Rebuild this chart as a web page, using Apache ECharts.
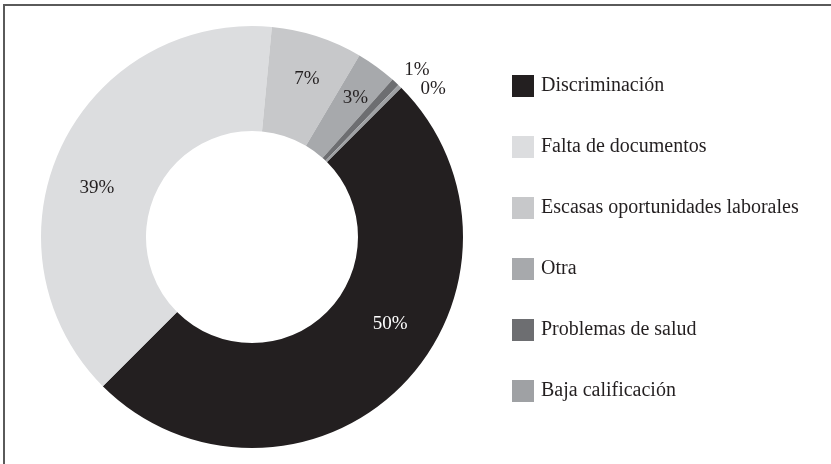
<!DOCTYPE html>
<html>
<head>
<meta charset="utf-8">
<script src="https://cdn.jsdelivr.net/npm/echarts@6/dist/echarts.min.js"></script>
<style>
html,body{margin:0;padding:0;background:#fff;}
#chart{width:831px;height:464px;}
</style>
</head>
<body>
<div id="chart"></div>
<script>
// Data
const categories = ['Discriminación', 'Falta de documentos', 'Escasas oportunidades laborales', 'Otra', 'Problemas de salud', 'Baja calificación'];
const values = [50.0, 39.0, 7.0, 3.1, 0.6, 0.3];

// Styles (kept separate from data)
const colors = ['#231f20', '#dcdddf', '#c7c8ca', '#a7a9ac', '#6d6e71', '#9fa1a4'];
const labelColors = ['#ffffff', '#231f20', '#231f20', '#231f20', '#231f20', '#231f20'];
const labelOffsets = [[24, -27], [-9, 20], [5, -4], [8, -9], [55, -49], [68, -33]];

const FONT = '"Liberation Serif", "DejaVu Serif", serif';

const chart = echarts.init(document.getElementById('chart'));
chart.setOption({
  backgroundColor: '#ffffff',
  animation: false,
  color: colors,
  graphic: [
    { type: 'line', shape: { x1: 4, y1: 5, x2: 831, y2: 5 }, style: { stroke: '#5a5a5a', lineWidth: 2 } },
    { type: 'line', shape: { x1: 4, y1: 4, x2: 4, y2: 464 }, style: { stroke: '#5a5a5a', lineWidth: 2 } }
  ],
  legend: {
    orient: 'vertical',
    left: 507,
    top: 70,
    itemWidth: 22,
    itemHeight: 22,
    itemGap: 39,
    icon: 'rect',
    textStyle: { fontFamily: FONT, fontSize: 20, color: '#231f20', padding: [0, 0, 0, 2] },
    data: categories
  },
  series: [{
    type: 'pie',
    center: [252, 237],
    radius: [106, 211],
    startAngle: 45,
    clockwise: true,
    avoidLabelOverlap: false,
    minShowLabelAngle: 0,
    emphasis: { disabled: true },
    label: {
      show: true,
      position: 'inside',
      fontFamily: FONT,
      fontSize: 19,
      formatter: p => Math.round(p.value) + '%'
    },
    labelLine: { show: false },
    itemStyle: { borderWidth: 0 },
    data: categories.map((c, i) => ({
      name: c,
      value: values[i],
      label: { color: labelColors[i], offset: labelOffsets[i] }
    }))
  }]
});
</script>
</body>
</html>
